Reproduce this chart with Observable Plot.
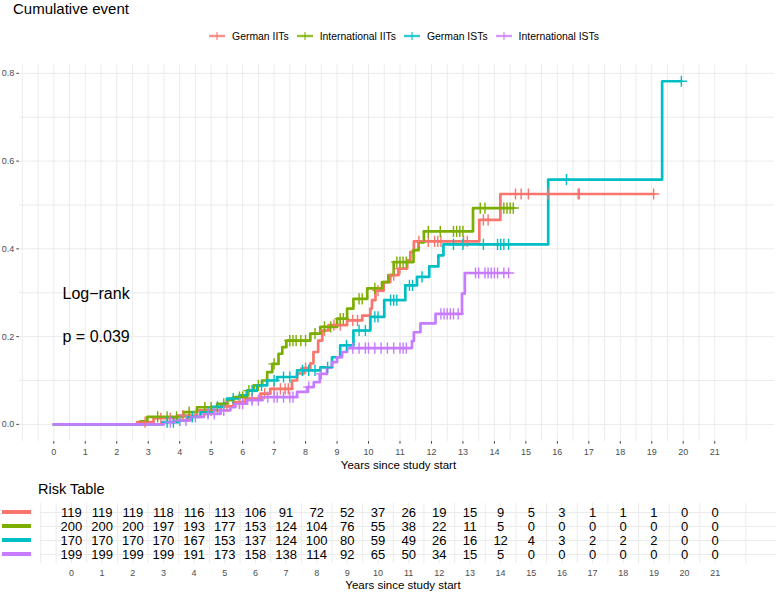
<!DOCTYPE html>
<html><head><meta charset="utf-8">
<script src="https://cdn.jsdelivr.net/npm/d3@7"></script>
<script src="https://cdn.jsdelivr.net/npm/@observablehq/plot@0.6"></script>
<style>
body{margin:0;background:#fff;font-family:"Liberation Sans",Arial,Helvetica,sans-serif;}
#wrap{position:relative;width:778px;height:592px;overflow:hidden;background:#fff;}
.abs{position:absolute;white-space:nowrap;color:#000;}
svg{position:absolute;left:0;}
</style></head><body><div id="wrap"></div>
<script>
// ---------- data ----------
const groups = ["German IITs", "International IITs", "German ISTs", "International ISTs"];
const colors = ["#F8766D", "#7CAE00", "#00BFC4", "#C77CFF"];

// step points [time (years), cumulative event]
const germanIITsSteps = [[0,0],[2.65,0.005],[3.17,0.014],[3.92,0.020],[4.55,0.032],[5.3,0.041],[5.71,0.051],[6.09,0.059],[6.57,0.070],[6.88,0.081],[7.57,0.100],[7.73,0.116],[7.94,0.128],[8.15,0.139],[8.25,0.165],[8.4,0.191],[8.53,0.214],[8.73,0.226],[9.32,0.237],[9.8,0.248],[10.06,0.264],[10.11,0.283],[10.22,0.305],[10.48,0.324],[10.69,0.340],[10.95,0.355],[11.23,0.374],[11.33,0.393],[11.44,0.417],[13.52,0.466],[14.19,0.525]];
const germanIITsEnd = 19.06;
const germanIITsCensor = [2.9,3.4,3.7,4.1,4.3,4.8,5.0,5.5,5.9,6.3,6.7,7.0,7.2,7.35,7.45,8.0,8.6,8.9,9.1,9.5,9.65,10.3,10.8,11.0,11.6,11.9,12.1,12.2,12.3,13.02,13.14,13.65,13.8,14.67,14.85,15.08,15.7,16.66,16.7,19.06];

const intIITsSteps = [[0,0],[2.75,0.007],[2.97,0.017],[4.12,0.028],[4.55,0.039],[5.19,0.047],[5.51,0.055],[5.71,0.062],[6.14,0.077],[6.35,0.089],[6.62,0.100],[6.78,0.119],[6.94,0.138],[7.14,0.161],[7.26,0.176],[7.39,0.191],[8.15,0.207],[8.47,0.222],[9.0,0.241],[9.32,0.264],[9.52,0.286],[9.96,0.310],[10.43,0.324],[10.63,0.340],[10.8,0.370],[11.43,0.397],[11.59,0.415],[11.76,0.440],[13.32,0.493]];
const intIITsEnd = 14.6;
const intIITsCensor = [3.3,3.6,3.9,4.3,4.8,5.0,5.4,5.9,6.0,6.2,6.5,7.0,7.5,7.6,7.7,7.85,8.0,8.3,8.6,8.8,9.1,9.2,9.7,9.8,10.2,10.9,11.0,11.1,11.2,11.9,12.28,12.7,12.8,12.9,13.0,13.55,13.7,14.3,14.4,14.5,14.6];

const germanISTsSteps = [[0,0],[3.45,0.005],[3.96,0.009],[4.24,0.017],[4.66,0.028],[5.0,0.040],[5.4,0.048],[5.5,0.059],[5.9,0.066],[6.14,0.077],[6.46,0.089],[6.78,0.100],[7.1,0.108],[7.73,0.123],[8.47,0.130],[8.84,0.153],[9.1,0.180],[9.52,0.214],[10.06,0.245],[10.5,0.283],[11.17,0.317],[11.54,0.336],[11.93,0.360],[12.22,0.385],[12.38,0.410],[15.71,0.558],[19.33,0.782]];
const germanISTsEnd = 19.94;
const germanISTsCensor = [3.6,3.8,4.0,4.4,4.9,5.2,5.7,6.3,6.6,7.0,7.3,7.5,7.9,8.1,8.3,8.7,9.3,9.7,9.9,10.2,10.3,10.7,10.8,10.9,11.3,11.4,11.7,12.7,13.0,13.65,14.1,14.2,14.3,14.45,16.29,19.94];

const intISTsSteps = [[0,0],[3.5,0.005],[3.92,0.009],[4.34,0.017],[4.77,0.024],[5.3,0.032],[5.61,0.039],[5.77,0.047],[6.14,0.055],[6.62,0.062],[7.73,0.074],[8.05,0.085],[8.26,0.096],[8.45,0.115],[8.68,0.130],[8.84,0.142],[9.0,0.153],[9.16,0.165],[9.32,0.174],[11.38,0.190],[11.44,0.210],[11.65,0.230],[12.13,0.252],[12.97,0.298],[13.06,0.345]];
const intISTsEnd = 14.45;
const intISTsCensor = [3.7,4.0,4.2,4.5,4.9,5.1,5.4,5.9,6.0,6.3,6.5,6.8,7.0,7.1,7.3,7.5,7.6,8.1,8.5,9.5,9.7,9.9,10.0,10.2,10.4,10.6,10.8,11.0,11.1,11.2,12.3,12.4,12.5,12.6,12.7,12.85,13.4,13.5,13.7,13.8,13.9,14.0,14.1,14.3,14.45];

// risk table
const riskTimes = d3.range(0, 22);
const riskGermanIITs = [119,119,119,118,116,113,106,91,72,52,37,26,19,15,9,5,3,1,1,1,0,0];
const riskIntIITs    = [200,200,200,197,193,177,153,124,104,76,55,38,22,11,5,0,0,0,0,0,0,0];
const riskGermanISTs = [170,170,170,170,167,153,137,124,100,80,59,49,26,16,12,4,3,2,2,2,0,0];
const riskIntISTs    = [199,199,199,199,191,173,158,138,114,92,65,50,34,15,5,0,0,0,0,0,0,0];

const xTicks = d3.range(0, 22);
const yTicks = [0, 0.2, 0.4, 0.6, 0.8];
const yGrid = [0, 0.1, 0.2, 0.3, 0.4, 0.5, 0.6, 0.7, 0.8];
const xGrid = d3.range(-1, 21.01, 0.5).concat([22]);

// ---------- build tables ----------
const stepSets = [germanIITsSteps, intIITsSteps, germanISTsSteps, intISTsSteps];
const ends = [germanIITsEnd, intIITsEnd, germanISTsEnd, intISTsEnd];
const censors = [germanIITsCensor, intIITsCensor, germanISTsCensor, intISTsCensor];
const risks = [riskGermanIITs, riskIntIITs, riskGermanISTs, riskIntISTs];

const lineRows = [];
const censorRows = [];
const riskRows = [];
groups.forEach((g, i) => {
  const s = stepSets[i];
  s.forEach(([t, v]) => lineRows.push({group: g, time: t, value: v}));
  lineRows.push({group: g, time: ends[i], value: s[s.length - 1][1]});
  const valueAt = t => { let v = 0; for (const [st, sv] of s) if (st <= t) v = sv; return v; };
  censors[i].forEach(t => censorRows.push({group: g, time: t, value: valueAt(t)}));
  risks[i].forEach((n, k) => riskRows.push({group: g, time: riskTimes[k], n}));
});

const font = '"Liberation Sans", Arial, Helvetica, sans-serif';
const wrap = d3.select("#wrap");

// title
wrap.append("div").attr("class", "abs")
  .style("left", "13px").style("top", "0px").style("font-size", "15px").style("line-height", "17px")
  .text("Cumulative event");

// legend
const leg = wrap.append("div").attr("class", "abs")
  .style("left", "0px").style("width", "816px").style("justify-content", "center")
  .style("top", "29px").style("display", "flex").style("align-items", "center")
  .style("height", "14px");
groups.forEach((g, i) => {
  const item = leg.append("div").style("display", "flex").style("align-items", "center").style("margin-right", "8px");
  const s = item.append("svg").attr("width", 16).attr("height", 12).style("position", "static");
  s.append("line").attr("x1", 0).attr("x2", 16).attr("y1", 6).attr("y2", 6).attr("stroke", colors[i]).attr("stroke-width", 2.4).attr("opacity", 0.8);
  s.append("line").attr("x1", 8).attr("x2", 8).attr("y1", 2).attr("y2", 10).attr("stroke", colors[i]).attr("stroke-width", 1.3).attr("opacity", 0.8);
  item.append("span").style("margin-left", "7px").style("font-size", "10.4px").text(g);
});

// main plot
const main = Plot.plot({
  width: 778, height: 420,
  marginTop: 10.5, marginBottom: 33, marginLeft: 19, marginRight: 4,
  x: {domain: [-1.09, 22.9], ticks: xTicks, tickSize: 2.75, tickPadding: 4, tickFormat: d3.format("d"), label: null},
  y: {domain: [-0.039, 0.819], ticks: yTicks, tickFormat: d3.format(".1f"), tickSize: 2.75, tickPadding: 2.5, label: null},
  color: {domain: groups, range: colors},
  style: {fontFamily: font, fontSize: "9px", color: "#4d4d4d", background: "white", overflow: "visible"},
  marks: [
    Plot.ruleX(xGrid, {stroke: "#ebebeb", strokeWidth: 1}),
    Plot.ruleY(yGrid, {stroke: "#ebebeb", strokeWidth: 1}),
    Plot.line(lineRows, {x: "time", y: "value", z: "group", stroke: "group", curve: "step-after", strokeWidth: 2.7}),
    Plot.dot(censorRows, {x: "time", y: "value", stroke: "group", symbol: "plus", r: 3.7, strokeWidth: 1.4}),
    Plot.text(["Log\u2212rank"], {frameAnchor: "top-left", textAnchor: "start", lineAnchor: "middle", dx: 43, dy: 228.5, fontSize: 16, fill: "black"}),
    Plot.text(["p = 0.039"], {frameAnchor: "top-left", textAnchor: "start", lineAnchor: "middle", dx: 43, dy: 271.5, fontSize: 16, fill: "black"})
  ]
});
d3.select(main).style("top", "54px");
wrap.node().appendChild(main);

wrap.append("div").attr("class", "abs")
  .style("left", "0px").style("width", "797px").style("text-align", "center")
  .style("top", "459px").style("font-size", "11.5px").style("line-height", "13px")
  .text("Years since study start");

// risk table
wrap.append("div").attr("class", "abs")
  .style("left", "38px").style("top", "481px").style("font-size", "14.5px").style("line-height", "16px")
  .text("Risk Table");

const risk = Plot.plot({
  width: 778, height: 114,
  marginTop: 24.9, marginBottom: 28.9, marginLeft: 40, marginRight: 2,
  x: {domain: [-1.01, 23], ticks: xTicks, tickSize: 0, tickPadding: 6, tickFormat: d3.format("d"), label: null},
  y: {type: "point", domain: groups, padding: 0.6, axis: null},
  style: {fontFamily: font, fontSize: "9px", color: "#4d4d4d", background: "transparent", overflow: "visible"},
  marks: [
    Plot.ruleX(xGrid, {stroke: "#ebebeb", strokeWidth: 1}),
    Plot.ruleY(groups, {y: d => d, stroke: "#ebebeb", strokeWidth: 1}),
    Plot.text(riskRows, {x: "time", y: "group", text: "n", fontSize: 13, fill: "black"})
  ]
});
const ys = risk.scale("y");
d3.select(risk).append("g").selectAll("line").data(groups).join("line")
  .attr("x1", 2).attr("x2", 31)
  .attr("y1", d => ys.apply(d)).attr("y2", d => ys.apply(d))
  .attr("stroke", (d, i) => colors[i]).attr("stroke-width", 4);
d3.select(risk).style("top", "478px");
wrap.node().appendChild(risk);

wrap.append("div").attr("class", "abs")
  .style("left", "0px").style("width", "806px").style("text-align", "center")
  .style("top", "579px").style("font-size", "11.5px").style("line-height", "13px")
  .text("Years since study start");
</script></body></html>
